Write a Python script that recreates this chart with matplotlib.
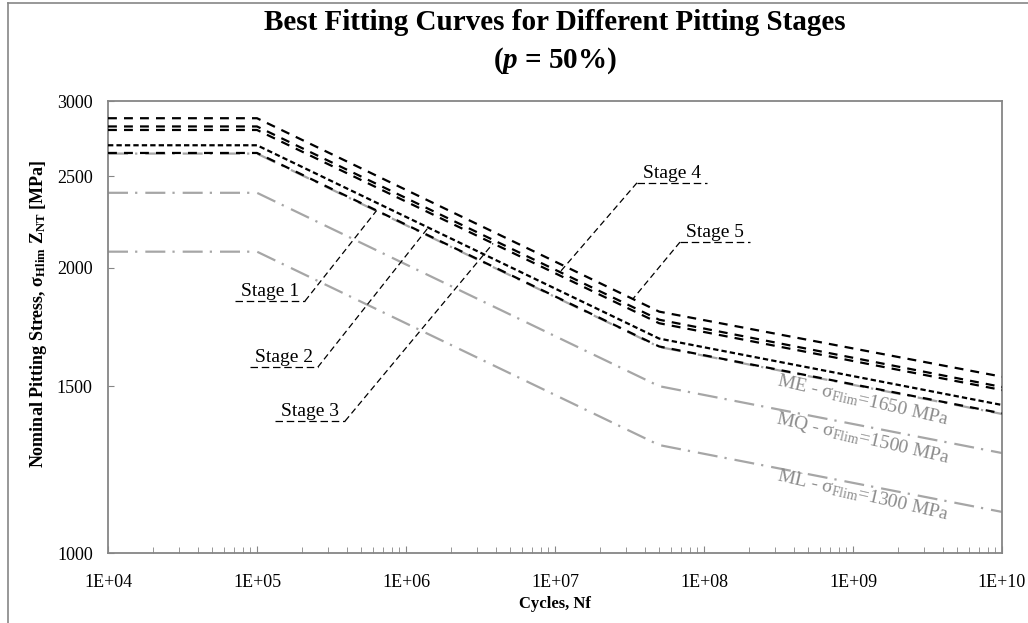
import matplotlib
matplotlib.use("Agg")
import matplotlib.pyplot as plt
from matplotlib.lines import Line2D
from matplotlib.ticker import FixedLocator, FuncFormatter, NullFormatter, NullLocator
import numpy as np

plt.rcParams["font.family"] = ["Liberation Serif", "DejaVu Serif"]
plt.rcParams["mathtext.fontset"] = "custom"
plt.rcParams["mathtext.rm"] = "Liberation Serif"
plt.rcParams["mathtext.it"] = "Liberation Serif:italic"
plt.rcParams["mathtext.bf"] = "Liberation Serif:bold"
plt.rcParams["mathtext.bfit"] = "Liberation Serif:italic:bold"

# cycle breakpoints shared by every curve
cycles = [1e4, 1e5, 5e7, 1e10]

# axis ticks
x_ticks = [1e4, 1e5, 1e6, 1e7, 1e8, 1e9, 1e10]
y_ticks = [1000, 1500, 2000, 2500, 3000]

# ISO material-quality reference curves
ref_names = ["ME", "MQ", "ML"]
ref_limits = [1650, 1500, 1300]
ref_curves = [
    [2640, 2640, 1650, 1402],
    [2400, 2400, 1500, 1275],
    [2080, 2080, 1300, 1105],
]

# fitted curves for each pitting stage
stage_names = ["Stage 1", "Stage 2", "Stage 3", "Stage 4", "Stage 5"]
stage_curves = [
    [2644, 2644, 1652, 1404],
    [2694, 2694, 1684, 1433],
    [2796, 2796, 1748, 1486],
    [2820, 2820, 1763, 1497],
    [2877, 2877, 1798, 1535],
]
stage_styles = [(0, (4, 3.2)), (0, (2.4, 1.4)), (0, (4, 3.2)), (0, (4, 3.2)), (0, (4, 3.2))]

# stage label placement: underline span, underline level, point on the curve
label_lo = [7.1e4, 9.0e4, 1.32e5, 3.55e7, 6.9e7]
label_hi = [2.1e5, 2.56e5, 3.9e5, 1.05e8, 2.04e8]
label_val = [1845, 1571, 1378, 2459, 2129]
label_target = [6.35e5, 1.41e6, 3.84e6, 1.08e7, 3.33e7]
leader_from_hi = [True, True, True, False, False]

# reference curve label anchors
ref_label_n = [1.17e9, 1.17e9, 1.17e9]
ref_label_val = [1450, 1322, 1151]

gray_line = "#a6a6a6"
gray_text = "#8c8c8c"
spine_gray = "#868686"


def on_curve(n, values):
    return 10 ** np.interp(np.log10(n), np.log10(cycles), np.log10(values))


fig = plt.figure(figsize=(10.28, 6.23), dpi=100)
ax = fig.add_axes([108 / 1028, 1 - 553 / 623, 894 / 1028, 452 / 623])

for vals in ref_curves:
    ax.plot(cycles, vals, color=gray_line, lw=1.6,
            linestyle=(0, (9, 3.2, 1, 3.6)), zorder=2)

for vals, ls in zip(stage_curves, stage_styles):
    ax.plot(cycles, vals, color="black", lw=1.6, linestyle=ls, zorder=3)

for i, name in enumerate(stage_names):
    lo, hi, val = label_lo[i], label_hi[i], label_val[i]
    ax.plot([lo, hi], [val, val], color="black", lw=0.9,
            linestyle=(0, (6, 3)), zorder=4)
    start = hi if leader_from_hi[i] else lo
    tn = label_target[i]
    ax.plot([start, tn], [val, on_curve(tn, stage_curves[i])], color="black",
            lw=0.9, linestyle=(0, (5, 3)), zorder=4)
    ax.text(np.sqrt(lo * hi), val * 1.003, name, ha="center", va="bottom",
            fontsize=14, zorder=5)

for name, lim, n, val in zip(ref_names, ref_limits, ref_label_n, ref_label_val):
    ax.text(n, val, name + r" - $\mathrm{\sigma_{Flim}}$=" + f"{lim} MPa",
            color=gray_text, fontsize=14, rotation=-13,
            ha="center", va="center", rotation_mode="anchor", zorder=5)

ax.set_xscale("log")
ax.set_yscale("log")
ax.set_xlim(x_ticks[0], x_ticks[-1])
ax.set_ylim(y_ticks[0], y_ticks[-1])

ax.xaxis.set_major_locator(FixedLocator(x_ticks))
ax.xaxis.set_minor_locator(FixedLocator(
    [d * k for d in x_ticks[:-1] for k in range(2, 10)]))
ax.xaxis.set_major_formatter(FuncFormatter(lambda v, p: f"1E+{int(round(np.log10(v))):02d}"))
ax.xaxis.set_minor_formatter(NullFormatter())
ax.yaxis.set_major_locator(FixedLocator(y_ticks))
ax.yaxis.set_minor_locator(NullLocator())
ax.yaxis.set_major_formatter(FuncFormatter(lambda v, p: f"{int(v)}"))

ax.tick_params(axis="both", which="both", direction="in", color=spine_gray, labelsize=13)
ax.tick_params(axis="x", which="major", length=5, pad=15)
ax.tick_params(axis="x", which="minor", length=4)
ax.tick_params(axis="y", which="major", length=4, pad=11)
for sp in ax.spines.values():
    sp.set_color(spine_gray)
    sp.set_linewidth(1.3)

ax.set_xlabel("Cycles, Nf", fontsize=12, fontweight="bold", labelpad=4)
ax.set_ylabel(r"Nominal Pitting Stress, $\mathbf{\sigma_{Hlim}}$ $\mathbf{Z_{NT}}$ [MPa]",
              fontsize=13, fontweight="bold")
ax.yaxis.set_label_coords(-0.066, 0.53)

fig.text(555 / 1028, 1 - 22 / 623, "Best Fitting Curves for Different Pitting Stages",
         ha="center", va="center", fontsize=21, fontweight="bold")
fig.text(555 / 1028, 1 - 61 / 623, r"($\mathbfit{p}$ = 50%)",
         ha="center", va="center", fontsize=21, fontweight="bold")

# outer chart frame
fig.add_artist(Line2D([7.5 / 1028, 7.5 / 1028], [0, 1 - 2.5 / 623],
                      transform=fig.transFigure, color=spine_gray, lw=1.2))
fig.add_artist(Line2D([7.5 / 1028, 1], [1 - 2.5 / 623, 1 - 2.5 / 623],
                      transform=fig.transFigure, color=spine_gray, lw=1.2))

fig.savefig("out.png", dpi=100)
